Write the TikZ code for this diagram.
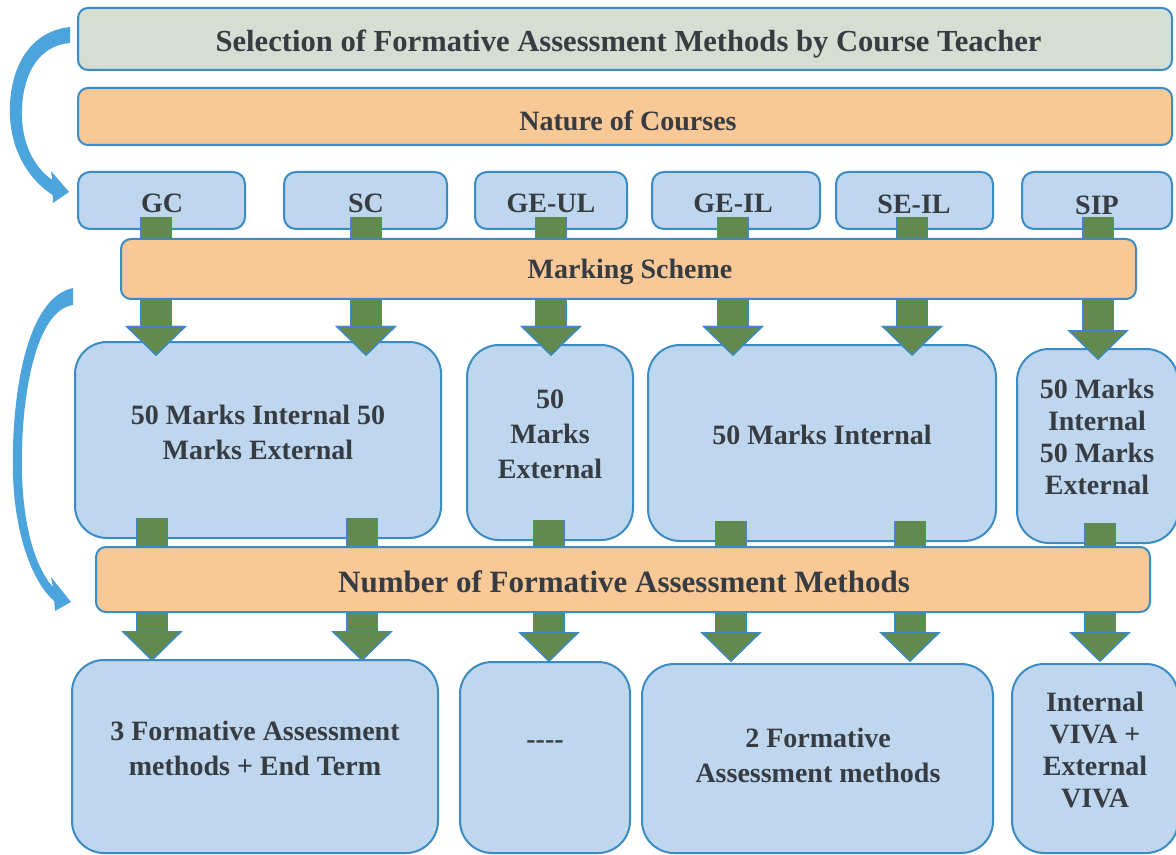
\documentclass[tikz,border=0pt]{standalone}
\usepackage{fontspec}
\setmainfont{Liberation Serif}
\usetikzlibrary{arrows.meta,calc}
\definecolor{bordblue}{RGB}{59,139,196}
\definecolor{bluefill}{RGB}{190,214,238}
\definecolor{orangefill}{RGB}{248,200,150}
\definecolor{topfill}{RGB}{212,222,210}
\definecolor{arrgreen}{RGB}{98,138,78}
\definecolor{curveblue}{RGB}{75,165,220}
\definecolor{txt}{RGB}{55,60,66}
\newcommand\lblfont{\bfseries\fontsize{14}{17.5}\selectfont}
\newcommand\lblfonttight{\bfseries\fontsize{14}{16}\selectfont}
\begin{document}
\begin{tikzpicture}[x=0.5pt,y=-0.5pt,
  bx/.style={draw=bordblue, line width=1pt, inner sep=0pt, outer sep=0pt},
  banner/.style={bx, fill=orangefill, rounded corners=5pt},
  cbox/.style={bx, fill=bluefill, rounded corners=6pt, minimum height=28.5pt},
  bigbox/.style={bx, fill=bluefill, rounded corners=16pt},
  lbl/.style={text=txt, font=\lblfont, align=center, inner sep=0pt},
  garrow/.style={draw=arrgreen, line width=15pt,
     -{Triangle[length=15pt,width=30pt,fill=arrgreen,color=bordblue,line width=0.6pt]},
     preaction={draw=bordblue, line width=16pt, -{Triangle[length=15pt,width=30pt]}}},
  curv/.style={fill=curveblue}
]
\clip (0,0) rectangle (1176,855);
\fill[white] (0,0) rectangle (1176,855);

% top banners
\node[bx, fill=topfill, rounded corners=5pt, minimum width=547pt, minimum height=31pt] (sel) at (625,39) {};
\node[lbl, font=\bfseries\fontsize{15.3}{18}\selectfont] (tsel) at (628.5,44) {Selection of Formative Assessment Methods by Course Teacher};
\node[banner, minimum width=547pt, minimum height=28.5pt] (nat) at (625,116.5) {};
\node[lbl] (tnat) at (628,121) {Nature of Courses};

% course boxes
\node[cbox, minimum width=83.5pt] (gc) at (161.5,200.5) {};
\node[cbox, minimum width=81.5pt] (sc) at (365.5,200.5) {};
\node[cbox, minimum width=76pt] (geul) at (551,200.5) {};
\node[cbox, minimum width=84pt] (geil) at (736,200.5) {};
\node[cbox, minimum width=78.5pt] (seil) at (914.5,200.5) {};
\node[cbox, minimum width=75pt] (sip) at (1097,200.5) {};
\node[lbl] (tgc) at (162,203) {GC};
\node[lbl] (tsc) at (366,203) {SC};
\node[lbl] (tgeul) at (551,203) {GE-UL};
\node[lbl] (tgeil) at (733,203) {GE-IL};
\node[lbl] (tseil) at (914,204) {SE-IL};
\node[lbl] (tsip) at (1097,205) {SIP};

% row 3 boxes
\node[bigbox, minimum width=183pt, minimum height=98pt] (A) at (258,440) {};
\node[bigbox, minimum width=83pt, minimum height=97.5pt] (B) at (550,442.5) {};
\node[bigbox, minimum width=174pt, minimum height=98pt] (C) at (822,443) {};
\node[bigbox, minimum width=80.5pt, minimum height=97pt] (D) at (1097.5,446) {};

% row 4 boxes
\node[bigbox, minimum width=183pt, minimum height=96.5pt] (E) at (255,756.5) {};
\node[bigbox, minimum width=85pt, minimum height=95.5pt] (F) at (545,757.5) {};
\node[bigbox, minimum width=175.5pt, minimum height=94.5pt] (G) at (817.5,758.5) {};
\node[bigbox, minimum width=83pt, minimum height=94.5pt] (H) at (1095,758.5) {};

% level 1 connectors
\draw[garrow] ($(gc.south -| 156,0)+(0,-12)$) -- ($(A.north -| 156,0)+(0,14)$);
\draw[garrow] ($(sc.south -| 366,0)+(0,-12)$) -- ($(A.north -| 366,0)+(0,14)$);
\draw[garrow] ($(geul.south -| 551,0)+(0,-12)$) -- ($(B.north -| 551,0)+(0,11)$);
\draw[garrow] ($(geil.south -| 733,0)+(0,-12)$) -- ($(C.north -| 733,0)+(0,11)$);
\draw[garrow] ($(seil.south -| 912,0)+(0,-12)$) -- ($(C.north -| 912,0)+(0,11)$);
\draw[garrow] ($(sip.south -| 1098,0)+(0,-12)$) -- ($(D.north -| 1098,0)+(0,11)$);

% level 2 connectors
\draw[garrow] ($(A.south -| 152,0)+(0,-20)$) -- ($(E.north -| 152,0)+(0,1)$);
\draw[garrow] ($(A.south -| 362,0)+(0,-20)$) -- ($(E.north -| 362,0)+(0,1)$);
\draw[garrow] ($(B.south -| 549,0)+(0,-20)$) -- ($(F.north -| 549,0)+(0,0)$);
\draw[garrow] ($(C.south -| 731,0)+(0,-20)$) -- ($(G.north -| 731,0)+(0,-2)$);
\draw[garrow] ($(C.south -| 910,0)+(0,-20)$) -- ($(G.north -| 910,0)+(0,-2)$);
\draw[garrow] ($(D.south -| 1100,0)+(0,-20)$) -- ($(H.north -| 1100,0)+(0,-2)$);

% middle banners
\node[banner, minimum width=507.5pt, minimum height=30pt] (mark) at (628.5,269) {};
\node[lbl] (tmark) at (630,272) {Marking Scheme};
\node[banner, minimum width=527pt, minimum height=32.5pt] (num) at (623,579.5) {};
\node[lbl, font=\bfseries\fontsize{15.5}{18}\selectfont] (tnum) at (624,582) {Number of Formative Assessment Methods};

% texts
\node[lbl] (tA) at (258,432) {50 Marks Internal 50\\Marks External};
\node[lbl] (tB) at (550,434) {50\\Marks\\External};
\node[lbl] (tC) at (822,435) {50 Marks Internal};
\node[lbl, font=\lblfonttight] (tD) at (1097,437) {50 Marks\\Internal\\50 Marks\\External};
\node[lbl] (tE) at (255,748) {3 Formative Assessment\\methods + End Term};
\node[lbl] (tF) at (545,745) {-{}-{}-{}-};
\node[lbl] (tG) at (818,755) {2 Formative\\Assessment methods};
\node[lbl, font=\lblfonttight] (tH) at (1095,750) {Internal\\VIVA +\\External\\VIVA};

% curved arrows
\fill[curv] (70,27) .. controls (25,32) and (8,75) .. (10,117) .. controls (12,155) and (32,182) .. (52.7,195) -- (53,203) -- (69,192) -- (51,171) -- (52.3,180) .. controls (38,170) and (23,150) .. (22,117) .. controls (21,80) and (35,46) .. (70,43) -- cycle;
\fill[curv] (73,288) .. controls (25,298) and (11,400) .. (13,475) .. controls (15,540) and (35,585) .. (54.2,601) -- (55,611) -- (71,602) -- (51,577) -- (52.8,587) .. controls (38,570) and (24,535) .. (22,475) .. controls (20,400) and (35,310) .. (73,305) -- cycle;
\end{tikzpicture}
\end{document}
